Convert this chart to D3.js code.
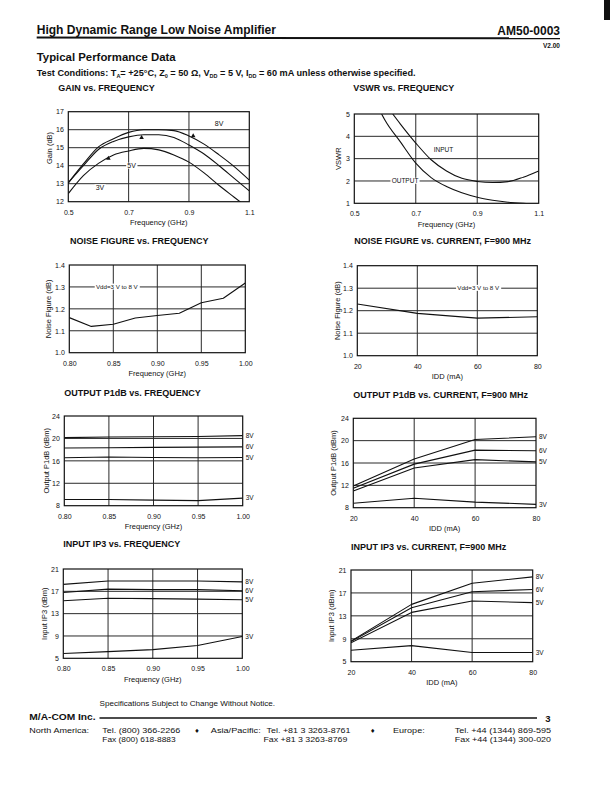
<!DOCTYPE html>
<html><head><meta charset="utf-8">
<script src="https://cdn.jsdelivr.net/npm/d3@7"></script>
<style>
body{margin:0;background:#fff}
svg{display:block}
text{font-family:'Liberation Sans',Arial,Helvetica,sans-serif}
</style>
</head><body>
<svg id="page" width="612" height="787"></svg>
<script>
// ---------------- DATA ----------------
// Gain vs frequency
const gainFreq = [0.5,0.55,0.6,0.65,0.7,0.75,0.8,0.85,0.9,0.95,1.0,1.05,1.1];
const gain8V = [13.05,14.1,15.05,15.5,15.85,16.0,16.0,15.95,15.65,15.2,14.6,13.95,13.2];
const gain5V = [13.05,14.0,14.9,15.35,15.6,15.72,15.72,15.57,15.15,14.65,14.0,13.3,12.6];
const gain3V = [12.45,13.45,14.13,14.6,14.82,14.96,14.88,14.6,14.2,13.6,12.9,12.25,11.6];
const gainMarkFreq = [0.914,0.743,0.633];
const gainMarkVal = [15.65,15.56,14.4];
const gainLabels = ["8V","5V","3V"];
const gainLabelFreq = [1.0,0.71,0.605];
const gainLabelVal = [16.35,14.0,12.8];
const gainXTicks = [0.5,0.7,0.9,1.1];
const gainYTicks = [12,13,14,15,16,17];

// VSWR vs frequency
const vswrInFreq = [0.625,0.65,0.7,0.75,0.8,0.85,0.9,0.95,1.0,1.05,1.1];
const vswrIn = [5.0,4.55,3.7,2.95,2.45,2.12,1.98,1.93,1.97,2.17,2.45];
const vswrOutFreq = [0.589,0.6,0.65,0.7,0.75,0.8,0.85,0.9,0.95,1.0,1.05,1.1];
const vswrOut = [5.0,4.72,3.75,2.8,2.15,1.75,1.47,1.27,1.14,1.05,1.0,0.97];
const vswrLabels = ["INPUT","OUTPUT"];
const vswrLabelFreq = [0.79,0.665];
const vswrLabelVal = [3.39,2.0];
const vswrXTicks = [0.5,0.7,0.9,1.1];
const vswrYTicks = [1,2,3,4,5];

// Noise figure vs frequency
const nfFreq = [0.8,0.825,0.85,0.875,0.9,0.925,0.95,0.975,1.0];
const nfFreqVal = [1.16,1.12,1.13,1.158,1.17,1.18,1.228,1.248,1.318];
const nfFreqXTicks = [0.80,0.85,0.90,0.95,1.00];
const nfYTicks = [1.0,1.1,1.2,1.3,1.4];

// Noise figure vs current
const nfCur = [20,40,60,80];
const nfCurVal = [1.23,1.188,1.167,1.173];
const curXTicks = [20,40,60,80];

// Output P1dB vs frequency
const pFreq = [0.80,0.85,0.90,0.95,1.00];
const p1Freq8V = [20.15,20.25,20.3,20.35,20.5];
const p1Freq6V = [18.3,18.35,18.4,18.45,18.5];
const p1Freq5V = [16.55,16.7,16.6,16.55,16.6];
const p1Freq3V = [9.1,9.1,9.0,8.9,9.35];
const p1YTicks = [8,12,16,20,24];

// Output P1dB vs current
const pCur = [20,40,60,80];
const p1Cur8V = [11.9,16.7,20.2,20.7];
const p1Cur6V = [11.5,15.8,18.3,18.2];
const p1Cur5V = [11.0,15.1,16.6,16.2];
const p1Cur3V = [8.8,9.7,9.0,8.6];

// Input IP3 vs frequency
const ip3Freq8V = [18.25,18.85,18.85,18.85,18.7];
const ip3Freq6V = [16.8,17.4,17.3,17.3,17.1];
const ip3Freq5V = [15.3,15.75,15.7,15.6,15.5];
const ip3Freq3V = [5.85,6.2,6.55,7.3,8.9];
const ip3YTicks = [5,9,13,17,21];

// Input IP3 vs current
const ip3Cur8V = [8.6,15.0,18.7,19.8];
const ip3Cur6V = [8.5,14.4,17.2,17.6];
const ip3Cur5V = [8.3,13.6,15.6,15.3];
const ip3Cur3V = [7.0,7.8,6.6,6.6];

const voltLabels = ["8V","6V","5V","3V"];

// ---------------- DRAWING ----------------
const svg = d3.select('#page');
const INK = '#111';
let clipN = 0;

function txt(parent, s, x, y, o = {}) {
  const t = parent.append('text').attr('x', x).attr('y', y)
    .attr('font-size', o.size || 7)
    .attr('font-weight', o.bold ? 'bold' : 'normal')
    .attr('fill', INK)
    .attr('text-anchor', o.anchor || 'start')
    .text(s);
  if (o.width) t.attr('textLength', o.width).attr('lengthAdjust', 'spacingAndGlyphs');
  return t;
}

function bgLabel(g, s, x, y, size, anchor) {
  const t = g.append('text').attr('x', x).attr('y', y).attr('dy', '0.35em')
    .attr('font-size', size).attr('fill', INK)
    .attr('text-anchor', anchor || 'middle').text(s);
  const bb = t.node().getBBox();
  g.insert('rect', () => t.node())
    .attr('x', bb.x - 1.2).attr('y', bb.y + 0.5)
    .attr('width', bb.width + 2.4).attr('height', bb.height - 1)
    .attr('fill', '#fff');
  return t;
}

function chart(o) {
  const x = d3.scaleLinear().domain(o.xDomain).range([o.l, o.r]);
  const y = d3.scaleLinear().domain(o.yDomain).range([o.b, o.t]);
  const g = svg.append('g');
  const id = 'clip' + (clipN++);
  g.append('clipPath').attr('id', id).append('rect')
    .attr('x', o.l).attr('y', o.t).attr('width', o.r - o.l).attr('height', o.b - o.t);

  // title
  txt(g, o.title, o.titleX, o.titleY, { size: 9, bold: true });

  // grid at interior ticks
  const xIn = o.xTicks.slice(1, -1), yIn = o.yTicks.slice(1, -1);
  g.append('g').selectAll('line').data(xIn).join('line')
    .attr('x1', d => x(d)).attr('x2', d => x(d)).attr('y1', o.t).attr('y2', o.b)
    .attr('stroke', '#2a2a2a').attr('stroke-width', 1);
  g.append('g').selectAll('line').data(yIn).join('line')
    .attr('y1', d => y(d)).attr('y2', d => y(d)).attr('x1', o.l).attr('x2', o.r)
    .attr('stroke', '#2a2a2a').attr('stroke-width', 1);

  // axes (tick labels)
  const ax = g.append('g').attr('transform', `translate(0,${o.b})`)
    .call(d3.axisBottom(x).tickValues(o.xTicks).tickFormat(o.xFmt).tickSize(0).tickPadding(8));
  ax.select('.domain').remove();
  ax.attr('font-family', null).attr('font-size', null);
  ax.selectAll('text').attr('font-size', 7).attr('fill', INK);
  const ay = g.append('g').attr('transform', `translate(${o.l},0)`)
    .call(d3.axisLeft(y).tickValues(o.yTicks).tickFormat(o.yFmt).tickSize(0).tickPadding(4.5));
  ay.select('.domain').remove();
  ay.attr('font-family', null).attr('font-size', null);
  ay.selectAll('text').attr('font-size', 7).attr('fill', INK);

  // axis titles
  txt(g, o.xTitle, (o.l + o.r) / 2, o.b + 21, { size: 7.5, anchor: 'middle' }).attr('dy', '0.35em');
  const yc = o.yTitleY != null ? o.yTitleY : (o.t + o.b) / 2;
  txt(g, o.yTitle, 0, 0, { size: 7.5, anchor: 'middle' }).attr('dy', '0.35em')
    .attr('transform', `translate(${o.l - o.yTitleOff},${yc}) rotate(-90)`);

  // series
  const pg = g.append('g').attr('clip-path', `url(#${id})`);
  o.series.forEach(s => {
    const pts = s.x.map((xv, i) => [xv, s.y[i]]);
    const line = d3.line().x(d => x(d[0])).y(d => y(d[1])).curve(o.curve || d3.curveLinear);
    pg.append('path').attr('d', line(pts)).attr('fill', 'none')
      .attr('stroke', INK).attr('stroke-width', 1.1).attr('stroke-linejoin', 'round');
  });

  // frame
  g.append('rect').attr('x', o.l).attr('y', o.t).attr('width', o.r - o.l).attr('height', o.b - o.t)
    .attr('fill', 'none').attr('stroke', INK).attr('stroke-width', 1.2);

  // inside labels
  (o.inLabels || []).forEach(L => bgLabel(g, L.text, x(L.x), y(L.y), L.size || 6.5));
  // right-side labels
  (o.rightLabels || []).forEach(L => {
    txt(g, L.text, o.r + 3, y(L.y), { size: 6.5 }).attr('dy', '0.35em');
  });
  if (o.after) o.after(g, x, y);
}

// Header
txt(svg, 'High Dynamic Range Low Noise Amplifier', 36.7, 33.5, { size: 12, bold: true, width: 239.3 });
txt(svg, 'AM50-0003', 560, 35, { size: 12, bold: true, anchor: 'end' });
svg.append('path').attr('d', 'M36.7,37.6 L560,38.3').attr('stroke', INK).attr('stroke-width', 2);
txt(svg, 'V2.00', 560, 47.5, { size: 6.5, bold: true, anchor: 'end' });
txt(svg, 'Typical Performance Data', 36.7, 61, { size: 11.5, bold: true, width: 139 });
{
  const t = svg.append('text').attr('x', 36.7).attr('y', 76).attr('font-size', 8.2)
    .attr('font-weight', 'bold').attr('fill', INK);
  const parts = [['Test Conditions:  T'], ['A', 1], ['= +25°C, Z'], ['0', 1], [' = 50 Ω, V'], ['DD', 1],
    [' = 5 V, I'], ['DD', 1], [' = 60 mA unless otherwise specified.']];
  parts.forEach(p => {
    const ts = t.append('tspan').text(p[0]);
    if (p[1]) ts.attr('font-size', 5.5).attr('dy', 1.5);
    else ts.attr('dy', 0);
  });
  t.selectAll('tspan').each(function (d, i) {
    const p = parts[i];
    if (!p[1] && i > 0 && parts[i - 1][1]) d3.select(this).attr('dy', -1.5);
  });
  const w = t.node().getComputedTextLength();
  t.attr('font-size', 8.2 * 381.6 / w);
}

// Charts
chart({
  title: 'GAIN vs. FREQUENCY', titleX: 58.3, titleY: 91,
  l: 68.3, r: 249.3, t: 111.7, b: 201.7,
  xDomain: [0.5, 1.1], yDomain: [12, 17], xTicks: gainXTicks, yTicks: gainYTicks,
  xFmt: d3.format('.1f'), yFmt: d3.format('d'),
  xTitle: 'Frequency (GHz)', yTitle: 'Gain (dB)', yTitleOff: 19, yTitleY: 148,
  curve: d3.curveMonotoneX,
  series: [{ x: gainFreq, y: gain8V }, { x: gainFreq, y: gain5V }, { x: gainFreq, y: gain3V }],
  inLabels: gainLabels.map((s, i) => ({ text: s, x: gainLabelFreq[i], y: gainLabelVal[i], size: 7 })),
  after: (g, x, y) => {
    g.selectAll('.mk').data(gainMarkFreq).join('path').attr('class', 'mk')
      .attr('d', d3.symbol(d3.symbolTriangle, 9))
      .attr('transform', (d, i) => `translate(${x(d)},${y(gainMarkVal[i])})`)
      .attr('fill', INK);
  }
});

chart({
  title: 'VSWR vs. FREQUENCY', titleX: 353.3, titleY: 91,
  l: 354.3, r: 538.7, t: 114, b: 203.3,
  xDomain: [0.5, 1.1], yDomain: [1, 5], xTicks: vswrXTicks, yTicks: vswrYTicks,
  xFmt: d3.format('.1f'), yFmt: d3.format('d'),
  xTitle: 'Frequency (GHz)', yTitle: 'VSWR', yTitleOff: 16,
  curve: d3.curveMonotoneX,
  series: [{ x: vswrInFreq, y: vswrIn }, { x: vswrOutFreq, y: vswrOut }],
  inLabels: vswrLabels.map((s, i) => ({ text: s, x: vswrLabelFreq[i], y: vswrLabelVal[i] }))
});

chart({
  title: 'NOISE FIGURE vs. FREQUENCY', titleX: 70, titleY: 244,
  l: 69.3, r: 245.3, t: 265, b: 352.7,
  xDomain: [0.8, 1.0], yDomain: [1.0, 1.4], xTicks: nfFreqXTicks, yTicks: nfYTicks,
  xFmt: d3.format('.2f'), yFmt: d3.format('.1f'),
  xTitle: 'Frequency (GHz)', yTitle: 'Noise Figure (dB)', yTitleOff: 21,
  series: [{ x: nfFreq, y: nfFreqVal }],
  inLabels: [{ text: 'Vdd=3 V to 8 V', x: 0.854, y: 1.3, size: 6.2 }]
});

chart({
  title: 'NOISE FIGURE vs. CURRENT, F=900 MHz', titleX: 354.3, titleY: 244,
  l: 357.3, r: 537.3, t: 265.7, b: 355.7,
  xDomain: [20, 80], yDomain: [1.0, 1.4], xTicks: curXTicks, yTicks: nfYTicks,
  xFmt: d3.format('d'), yFmt: d3.format('.1f'),
  xTitle: 'IDD (mA)', yTitle: 'Noise Figure (dB)', yTitleOff: 20,
  series: [{ x: nfCur, y: nfCurVal }],
  inLabels: [{ text: 'Vdd=3 V to 8 V', x: 60.3, y: 1.3, size: 6.2 }]
});

chart({
  title: 'OUTPUT P1dB vs. FREQUENCY', titleX: 64.3, titleY: 395.7,
  l: 64.3, r: 242.7, t: 416, b: 505.7,
  xDomain: [0.8, 1.0], yDomain: [8, 24], xTicks: nfFreqXTicks, yTicks: p1YTicks,
  xFmt: d3.format('.2f'), yFmt: d3.format('d'),
  xTitle: 'Frequency (GHz)', yTitle: 'Output P1dB (dBm)', yTitleOff: 18.3,
  series: [p1Freq8V, p1Freq6V, p1Freq5V, p1Freq3V].map(v => ({ x: pFreq, y: v })),
  rightLabels: [p1Freq8V, p1Freq6V, p1Freq5V, p1Freq3V].map((v, i) => ({ text: voltLabels[i], y: v[v.length - 1] }))
});

chart({
  title: 'OUTPUT P1dB vs. CURRENT, F=900 MHz', titleX: 353.3, titleY: 397.7,
  l: 353.3, r: 536, t: 418.3, b: 507.7,
  xDomain: [20, 80], yDomain: [8, 24], xTicks: curXTicks, yTicks: p1YTicks,
  xFmt: d3.format('d'), yFmt: d3.format('d'),
  xTitle: 'IDD (mA)', yTitle: 'Output P1dB (dBm)', yTitleOff: 20,
  series: [p1Cur8V, p1Cur6V, p1Cur5V, p1Cur3V].map(v => ({ x: pCur, y: v })),
  rightLabels: [p1Cur8V, p1Cur6V, p1Cur5V, p1Cur3V].map((v, i) => ({ text: voltLabels[i], y: v[v.length - 1] }))
});

chart({
  title: 'INPUT IP3 vs. FREQUENCY', titleX: 63.3, titleY: 547.3,
  l: 63.3, r: 242.3, t: 569, b: 658.3,
  xDomain: [0.8, 1.0], yDomain: [5, 21], xTicks: nfFreqXTicks, yTicks: ip3YTicks,
  xFmt: d3.format('.2f'), yFmt: d3.format('d'),
  xTitle: 'Frequency (GHz)', yTitle: 'Input IP3 (dBm)', yTitleOff: 19,
  series: [ip3Freq8V, ip3Freq6V, ip3Freq5V, ip3Freq3V].map(v => ({ x: pFreq, y: v })),
  rightLabels: [ip3Freq8V, ip3Freq6V, ip3Freq5V, ip3Freq3V].map((v, i) => ({ text: voltLabels[i], y: v[v.length - 1] }))
});

chart({
  title: 'INPUT IP3 vs. CURRENT, F=900 MHz', titleX: 351, titleY: 550,
  l: 351, r: 532.7, t: 570, b: 661.7,
  xDomain: [20, 80], yDomain: [5, 21], xTicks: curXTicks, yTicks: ip3YTicks,
  xFmt: d3.format('d'), yFmt: d3.format('d'),
  xTitle: 'IDD (mA)', yTitle: 'Input IP3 (dBm)', yTitleOff: 19.3,
  series: [ip3Cur8V, ip3Cur6V, ip3Cur5V, ip3Cur3V].map(v => ({ x: pCur, y: v })),
  rightLabels: [ip3Cur8V, ip3Cur6V, ip3Cur5V, ip3Cur3V].map((v, i) => ({ text: voltLabels[i], y: v[v.length - 1] }))
});

// Footer
txt(svg, 'Specifications Subject to Change Without Notice.', 99.5, 706, { size: 7, width: 175.6 });
txt(svg, 'M/A-COM Inc.', 29.3, 720, { size: 9, bold: true, width: 66.3 });
svg.append('line').attr('x1', 99.5).attr('x2', 537).attr('y1', 718).attr('y2', 718)
  .attr('stroke', INK).attr('stroke-width', 1.5);
txt(svg, '3', 550.5, 721.5, { size: 9.5, bold: true, anchor: 'end' });
const r1 = 732.5, r2 = 742;
txt(svg, 'North America:', 29.3, r1, { size: 8, width: 59.7 });
txt(svg, 'Tel. (800) 366-2266', 102.3, r1, { size: 8, width: 78 });
txt(svg, 'Fax (800) 618-8883', 102.3, r2, { size: 8, width: 73.3 });
txt(svg, '♦', 197, r1, { size: 6, anchor: 'middle' }).style('font-family', 'DejaVu Sans');
txt(svg, 'Asia/Pacific:', 210.8, r1, { size: 8, width: 49.9 });
txt(svg, 'Tel. +81 3 3263-8761', 266.6, r1, { size: 8, width: 83.9 });
txt(svg, 'Fax +81 3 3263-8769', 263.5, r2, { size: 8, width: 83.9 });
txt(svg, '♦', 372.8, r1, { size: 6, anchor: 'middle' }).style('font-family', 'DejaVu Sans');
txt(svg, 'Europe:', 393, r1, { size: 8, width: 31.7 });
txt(svg, 'Tel. +44 (1344) 869-595', 454.7, r1, { size: 8, width: 96.4 });
txt(svg, 'Fax +44 (1344) 300-020', 454.7, r2, { size: 8, width: 96.4 });

// scan mark at top right
svg.append('rect').attr('x', 604).attr('y', 0).attr('width', 6).attr('height', 20).attr('fill', INK);
</script>
</body></html>
